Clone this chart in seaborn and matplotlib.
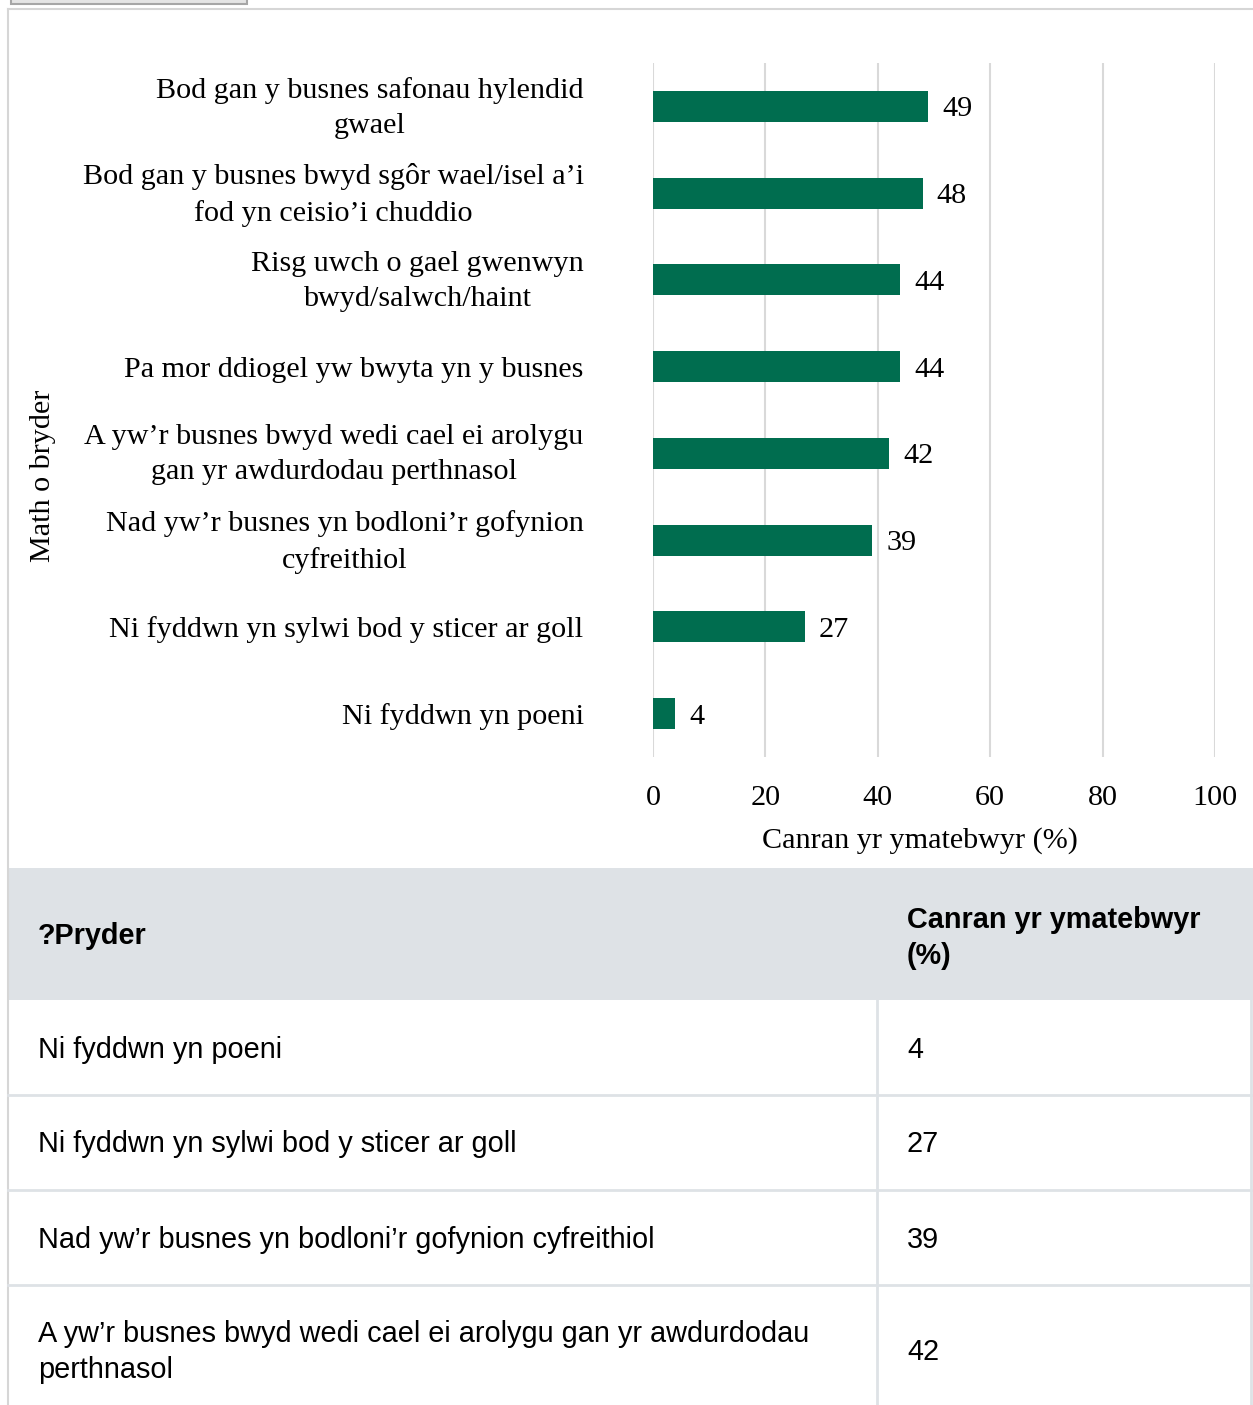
import textwrap
import matplotlib
matplotlib.use("Agg")
import matplotlib.pyplot as plt
import matplotlib.transforms as mtransforms
import seaborn as sns
import pandas as pd
from matplotlib.patches import Rectangle

# data (top to bottom)
concerns = [
    'Bod gan y busnes safonau hylendid\ngwael',
    'Bod gan y busnes bwyd sgôr wael/isel a’i\nfod yn ceisio’i chuddio',
    'Risg uwch o gael gwenwyn\nbwyd/salwch/haint',
    'Pa mor ddiogel yw bwyta yn y busnes',
    'A yw’r busnes bwyd wedi cael ei arolygu\ngan yr awdurdodau perthnasol',
    'Nad yw’r busnes yn bodloni’r gofynion\ncyfreithiol',
    'Ni fyddwn yn sylwi bod y sticer ar goll',
    'Ni fyddwn yn poeni',
]
percent = [49, 48, 44, 44, 42, 39, 27, 4]
x_ticks = [0, 20, 40, 60, 80, 100]

df = pd.DataFrame({'concern': concerns, 'percent': percent})

green = '#006d4f'
grid_col = '#d9d9d9'
line_col = '#dee2e6'
serif = 'Liberation Serif'
sans = 'Liberation Sans'
fs = 21.7    # chart text
tfs = 20.8   # table text

W, H = 1253, 1405
fig = plt.figure(figsize=(W / 100, H / 100), dpi=100)

# background layer in pixel coords (frame, table)
bg = fig.add_axes([0, 0, 1, 1])
bg.set_xlim(0, W)
bg.set_ylim(H, 0)
bg.axis('off')

# bit of the button at the top and the outer frame
bg.add_patch(Rectangle((11, -10), 236, 14, facecolor='#e4e4e4', edgecolor='#a6a6a6', lw=1.5))
bg.plot([8, 8], [9, H], color='#d6d6d6', lw=1.5)
bg.plot([8, W], [9, 9], color='#d6d6d6', lw=1.5)

# chart
ax = fig.add_axes([653 / W, 1 - 757 / H, (1215 - 653) / W, (757 - 63) / H])
sns.barplot(data=df, x='percent', y='concern', orient='h', color=green,
            width=0.36, saturation=1, ax=ax, zorder=3)
ax.set_xlim(0, 100)
ax.set_xticks(x_ticks)
ax.grid(axis='x', color=grid_col, lw=1.5, zorder=0)
ax.set_axisbelow(True)
for s in ax.spines.values():
    s.set_visible(False)
ax.tick_params(length=0)
ax.tick_params(axis='x', pad=20)
ax.tick_params(axis='y', pad=50)
for lab in ax.get_xticklabels():
    lab.set_fontsize(fs)
    lab.set_fontfamily(serif)
# two-line labels sit a little higher in the original
lift = mtransforms.ScaledTranslation(0, 6 / 100, fig.dpi_scale_trans)
for lab in ax.get_yticklabels():
    lab.set_fontsize(fs)
    lab.set_fontfamily(serif)
    lab.set_multialignment('center')
    lab.set_linespacing(1.45)
    if '\n' in lab.get_text():
        lab.set_transform(lab.get_transform() + lift)

for i, v in enumerate(percent):
    ax.text(v + 2.5, i, str(v), va='center_baseline', ha='left', fontsize=fs, family=serif)

ax.set_xlabel('Canran yr ymatebwyr (%)', fontsize=fs, family=serif)
ax.xaxis.set_label_coords(0.475, -0.101)
ax.set_ylabel('Math o bryder', fontsize=fs, family=serif)
ax.yaxis.set_label_coords(-1.062, 0.405)

# table below the chart (ascending order, first rows visible)
tab = df.iloc[::-1].reset_index(drop=True)
tab_top = 868
head_h = 132
row_h = 95
bg.add_patch(Rectangle((8, tab_top), W - 8, head_h, facecolor=line_col, edgecolor='none'))
bg.text(38, tab_top + head_h / 2 + 2, '?Pryder', ha='left', va='center',
        fontsize=tfs, fontweight='bold', family=sans)
bg.text(907, tab_top + head_h / 2 + 4, 'Canran yr ymatebwyr\n(%)', ha='left', va='center',
        fontsize=tfs, fontweight='bold', family=sans, linespacing=1.4)

y = tab_top + head_h
bg.plot([877, 877], [y, H], color=line_col, lw=2)
bg.plot([1251, 1251], [y, H], color=line_col, lw=2)
for i in range(4):
    label = textwrap.fill(tab.loc[i, 'concern'].replace('\n', ' '), 58)
    h = row_h if '\n' not in label else 130
    bg.text(38, y + h / 2 + 2, label, ha='left', va='center', fontsize=tfs,
            family=sans, linespacing=1.4)
    bg.text(907, y + h / 2 + 2, str(tab.loc[i, 'percent']), ha='left', va='center',
            fontsize=tfs, family=sans)
    y += h
    bg.plot([8, W], [y, y], color=line_col, lw=2)

fig.savefig('out.png', dpi=100)
